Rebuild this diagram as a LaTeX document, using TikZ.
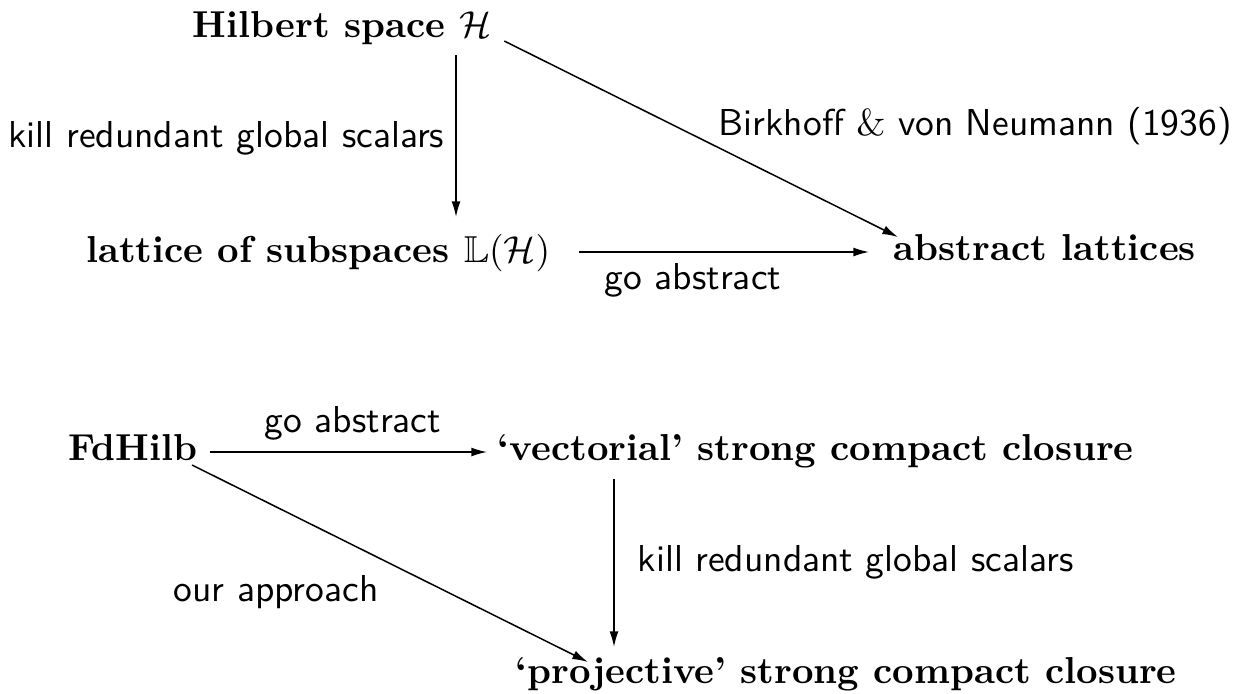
\documentclass[tikz,border=0pt]{standalone}
\usepackage{amssymb}
\usetikzlibrary{arrows.meta}
\begin{document}
\begin{tikzpicture}[x=0.2667pt,y=-0.2667pt,
  obj/.style={inner sep=0pt,font=\bfseries},
  lbl/.style={inner sep=0pt,font=\sffamily},
  arr/.style={line width=0.4pt,-{Latex[length=4.2pt,width=2.4pt]}}]
\useasboundingbox (0,0) rectangle (1238,693);
% top diagram
\node[obj,anchor=base west] (H) at (192,37) {Hilbert space $\mathcal{H}$};
\node[obj,anchor=base east] (L) at (551,262) {lattice of subspaces $\mathbb{L}(\mathcal{H})$};
\node[obj,anchor=base west] (A) at (893,260) {abstract lattices};
\node[lbl,anchor=base east] (k1) at (445,147) {kill redundant global scalars};
\node[lbl,anchor=base] (g1) at (693,289) {go abstract};
\node[lbl,anchor=base west] (bn) at (718,135) {Birkhoff $\&$ von Neumann (1936)};
\draw[arr] ([shift={(264,18)}]H.base west) -- ([shift={(-95,-45)}]L.base east);
\draw[arr] ([shift={(28,-10)}]L.base east) -- ([shift={(-24,-8)}]A.base west);
\draw[arr] ([shift={(12,4)}]H.base east) -- ([shift={(5,-23)}]A.base west);
% bottom diagram
\node[obj,anchor=base east] (F) at (198,460) {FdHilb};
\node[obj,anchor=base west] (V) at (497,460) {`vectorial' strong compact closure};
\node[obj,anchor=base west] (P) at (515,683) {`projective' strong compact closure};
\node[lbl,anchor=base] (g2) at (353,432) {go abstract};
\node[lbl,anchor=base west] (k2) at (637,571) {kill redundant global scalars};
\node[lbl,anchor=base west] (oa) at (173,601) {our approach};
\draw[arr] ([shift={(12,-8)}]F.base east) -- ([shift={(-10,-8)}]V.base west);
\draw[arr] ([shift={(117,19)}]V.base west) -- ([shift={(99,-36)}]P.base west);
\draw[arr] ([shift={(-6,5)}]F.base east) -- ([shift={(73,-21)}]P.base west);
\end{tikzpicture}
\end{document}
